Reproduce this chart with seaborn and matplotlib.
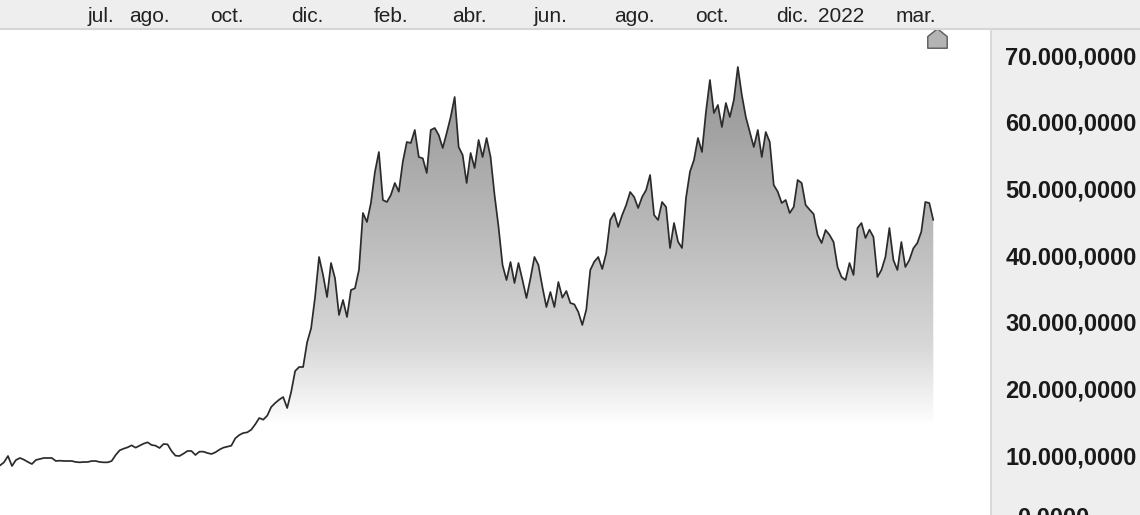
import matplotlib
matplotlib.use("Agg")
import matplotlib.pyplot as plt
import matplotlib.transforms as mtransforms
import matplotlib.dates as mdates
from matplotlib.colors import LinearSegmentedColormap
from matplotlib.lines import Line2D
from matplotlib.path import Path
import numpy as np
import pandas as pd
import seaborn as sns

# serie de precios, un punto cada 3 dias
start_date = "2020-04-26"
step = "3D"
prices = [
    8430, 8900, 9850, 8350, 9250, 9550, 9300, 8950, 8650, 9250,
    9400, 9550, 9550, 9550, 9100, 9150, 9100, 9100, 9100, 8950,
    8900, 8950, 8950, 9100, 9100, 8950, 8900, 8900, 9100, 10000,
    10700, 10950, 11150, 11450, 11100, 11400, 11700, 11900, 11500, 11400,
    11050, 11650, 11600, 10600, 9900, 9850, 10200, 10600, 10600, 10000,
    10500, 10500, 10300, 10150, 10400, 10800, 11100, 11250, 11400, 12500,
    13000, 13300, 13400, 13800, 14600, 15550, 15300, 15900, 17200, 17800,
    18300, 18700, 17050, 19450, 22600, 23200, 23200, 26900, 29000, 33700,
    39700, 37000, 33700, 38800, 36500, 31000, 33250, 30700, 34750, 35000,
    37750, 46300, 44950, 47800, 52450, 55450, 48250, 47950, 49000, 50800,
    49500, 54000, 56950, 56800, 58750, 54700, 54500, 52300, 58750, 59050,
    58000, 56050, 58300, 60700, 63700, 56200, 55000, 50800, 55300, 53050,
    57250, 54700, 57550, 54700, 49000, 44200, 38500, 36250, 38950, 35800,
    38800, 36250, 33550, 36500, 39700, 38500, 35200, 32200, 34450, 32200,
    35950, 33600, 34600, 32800, 32600, 31450, 29500, 31800, 37750, 39000,
    39700, 37900, 40300, 45250, 46300, 44200, 46000, 47500, 49450, 48700,
    47050, 48700, 49750, 52000, 46000, 45250, 47950, 47200, 41050, 44800,
    42000, 41050, 48550, 52500, 54250, 57550, 55450, 61450, 66250, 61300,
    62500, 59200, 62800, 60700, 63250, 68200, 64000, 60700, 58450, 56200,
    58750, 54700, 58450, 56950, 50500, 49500, 47800, 48250, 46300, 47200,
    51250, 50800, 47500, 46800, 46150, 43000, 41800, 43750, 43000, 41950,
    38200, 36700, 36250, 38800, 37000, 44050, 44800, 42550, 43800, 42700,
    36700, 37750, 39700, 44050, 39250, 37750, 41950, 38200, 39250, 41000,
    41800, 43500, 47950, 47800, 45250,
]

tick_dates = [
    "2020-07-01", "2020-08-01", "2020-10-01", "2020-12-01", "2021-02-01",
    "2021-04-01", "2021-06-01", "2021-08-01", "2021-10-01", "2021-12-01",
    "2022-01-01", "2022-03-01",
]
tick_labels = [
    "jul.", "ago.", "oct.", "dic.", "feb.", "abr.",
    "jun.", "ago.", "oct.", "dic.", "2022", "mar.",
]
y_ticks = [10000, 20000, 30000, 40000, 50000, 60000, 70000]


def fmt_es(value):
    """Formato 70.000,0000"""
    s = f"{value:,.4f}"
    return s.replace(",", "X").replace(".", ",").replace("X", ".")


df = pd.DataFrame({
    "date": pd.date_range(start_date, periods=len(prices), freq=step),
    "price": prices,
})

sns.set_theme(style="white")
plt.rcParams["font.family"] = ["Liberation Sans", "DejaVu Sans"]

W, H = 1140, 515
fig = plt.figure(figsize=(W / 100, H / 100), dpi=100, facecolor="#eeeeee")
ax = fig.add_axes([0, 0, 990 / W, 486 / H])
ax.set_facecolor("white")

sns.lineplot(data=df, x="date", y="price", ax=ax, color="#2b2b2b",
             linewidth=1.25, zorder=3)

# relleno con degradado gris -> blanco
base = 15000
fill = ax.fill_between(df["date"], df["price"], base,
                       facecolor="none", edgecolor="none")
clip = fill.get_paths()[0]
cmap = LinearSegmentedColormap.from_list(
    "gris",
    [(0.0, "#fdfdfd"), (0.2, "#d8d8d8"), (0.44, "#c0c0c0"),
     (0.84, "#9c9c9c"), (1.0, "#919191")],
)
x0 = mdates.date2num(df["date"].iloc[0])
x1 = mdates.date2num(df["date"].iloc[-1])
grad = np.linspace(0, 1, 256).reshape(-1, 1)
im = ax.imshow(grad, aspect="auto", origin="lower", cmap=cmap,
               extent=[x0, x1, base, 72000], zorder=1)
im.set_clip_path(clip, transform=ax.transData)

ax.set_xlim(pd.Timestamp(start_date), pd.Timestamp("2022-05-10 16:00"))
ax.set_ylim(1000, 73900)
ax.set_xlabel("")
ax.set_ylabel("")

ax.xaxis.tick_top()
ax.set_xticks(pd.to_datetime(tick_dates))
ax.set_xticklabels(tick_labels, ha="left", fontsize=15, color="#222222")
ax.tick_params(axis="x", length=0, pad=2)

ax.yaxis.tick_right()
ax.set_yticks(y_ticks)
ax.set_yticklabels([fmt_es(v) for v in y_ticks], fontsize=17,
                   fontweight="bold", color="#1a1a1a")
ax.tick_params(axis="y", length=0, pad=11)
sns.despine(ax=ax, left=True, right=True, top=True, bottom=True)

# etiqueta 0, cortada abajo como en el original
fig.text(1017 / W, 8 / H, fmt_es(0), ha="left", va="top", fontsize=17,
         fontweight="bold", color="#1a1a1a")

# bordes de los paneles
fig.add_artist(Line2D([0, 1], [486.5 / H, 486.5 / H], transform=fig.transFigure,
                      color="#d6d6d6", lw=1.5))
fig.add_artist(Line2D([991 / W, 991 / W], [0, 486 / H], transform=fig.transFigure,
                      color="#d9d9d9", lw=1.5))

# marcador del ultimo valor
house = Path(
    [(0, 1), (1, 0.2), (1, -1), (-1, -1), (-1, 0.2), (0, 1)],
    [Path.MOVETO, Path.LINETO, Path.LINETO, Path.LINETO, Path.LINETO, Path.CLOSEPOLY],
)
trans = mtransforms.blended_transform_factory(ax.transData, ax.transAxes)
ax.plot([x1 + 3], [(515 - 38) / 486], marker=house, markersize=14,
        markerfacecolor="#b4b4b4", markeredgecolor="#5a5a5a",
        markeredgewidth=1.0, transform=trans, clip_on=False, zorder=5)

fig.savefig("out.png", dpi=100, facecolor=fig.get_facecolor())
plt.close(fig)
